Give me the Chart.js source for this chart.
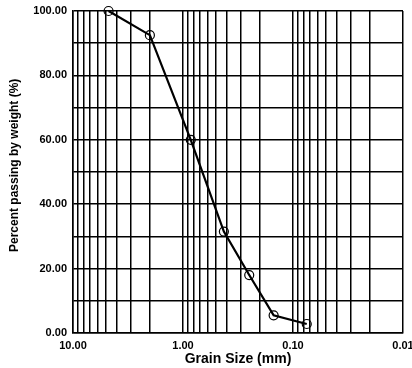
<!DOCTYPE html>
<html>
<head>
<meta charset="utf-8">
<script src="https://cdn.jsdelivr.net/npm/chart.js@4"></script>
<style>
  html, body { margin: 0; padding: 0; background: #fff; }
  #c { display: block; }
</style>
</head>
<body>
<canvas id="c" width="412" height="368"></canvas>
<script>
// Grain size (mm) of each sieve and percent passing
const grainSizes = [4.75, 2.0, 0.85, 0.425, 0.25, 0.15, 0.075];
const percentPassing = [100, 92.5, 60, 31.5, 18, 5.5, 2.8];

// Axis gridline positions and labelled ticks
const xGridValues = [10, 9, 8, 7, 6, 5, 4, 3, 2, 1,
                     0.9, 0.8, 0.7, 0.6, 0.5, 0.4, 0.3, 0.2, 0.1,
                     0.09, 0.08, 0.07, 0.06, 0.05, 0.04, 0.03, 0.02, 0.01];
const xLabelledTicks = [10, 1, 0.1, 0.01];
const yLabelledTicks = [0, 20, 40, 60, 80, 100];

const xTitle = 'Grain Size (mm)';
const yTitle = 'Percent passing by weight (%)';

const FONT = "'Liberation Sans', Arial, sans-serif";

const whiteBg = {
  id: 'whiteBg',
  beforeDraw(chart) {
    const ctx = chart.ctx;
    ctx.save();
    ctx.fillStyle = '#fff';
    ctx.fillRect(0, 0, chart.width, chart.height);
    ctx.restore();
  }
};

new Chart(document.getElementById('c'), {
  type: 'scatter',
  data: {
    datasets: [{
      data: grainSizes.map((x, i) => ({ x: x, y: percentPassing[i] })),
      showLine: true,
      borderColor: '#000',
      borderWidth: 2.2,
      backgroundColor: 'rgba(255,255,255,0)',
      pointRadius: 4.5,
      pointHoverRadius: 4.5,
      pointBorderWidth: 1.2,
      pointBorderColor: '#000',
      pointBackgroundColor: 'rgba(255,255,255,0)',
      tension: 0,
      clip: false
    }]
  },
  options: {
    responsive: false,
    animation: false,
    events: [],
    layout: { padding: { top: 11, right: 9, left: 0, bottom: 0 } },
    plugins: { legend: { display: false }, tooltip: { enabled: false } },
    scales: {
      x: {
        type: 'logarithmic',
        reverse: true,
        min: 0.01,
        max: 10,
        afterBuildTicks: (axis) => { axis.ticks = xGridValues.map(v => ({ value: v })); },
        afterFit: (axis) => { axis.height = 35; axis.paddingLeft = 0; axis.paddingRight = 0; },
        grid: { color: '#000', lineWidth: 1.5, drawTicks: false },
        border: { color: '#000', width: 1.5 },
        ticks: {
          autoSkip: false,
          maxRotation: 0,
          minRotation: 0,
          padding: 6,
          color: '#000',
          font: { family: FONT, size: 11, weight: 'bold' },
          callback: (v) => xLabelledTicks.some(t => Math.abs(t - v) < 1e-9) ? Number(v).toFixed(2) : ''
        },
        title: {
          display: true,
          text: xTitle,
          color: '#000',
          font: { family: FONT, size: 14, weight: 'bold' },
          padding: { top: 0, bottom: 0 }
        }
      },
      y: {
        type: 'linear',
        min: 0,
        max: 100,
        afterFit: (axis) => { axis.width = 73; axis.paddingTop = 0; axis.paddingBottom = 0; },
        grid: { color: '#000', lineWidth: 1.5, drawTicks: false },
        border: { color: '#000', width: 1.5 },
        ticks: {
          stepSize: 10,
          padding: 6,
          color: '#000',
          font: { family: FONT, size: 11, weight: 'bold' },
          callback: (v) => yLabelledTicks.includes(v) ? Number(v).toFixed(2) : ''
        },
        title: {
          display: true,
          text: '    ' + yTitle,
          color: '#000',
          font: { family: FONT, size: 12, weight: 'bold' },
          padding: { top: 7, bottom: 0 }
        }
      }
    }
  },
  plugins: [whiteBg]
});
</script>
</body>
</html>
